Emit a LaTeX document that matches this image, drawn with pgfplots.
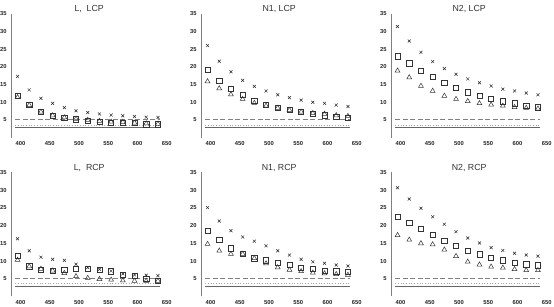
\documentclass[border=0pt]{standalone}
\usepackage{fontspec}
\setmainfont{Liberation Sans}
\usepackage{pgfplots}
\usepackage{pgfplotstable}
\pgfplotsset{compat=1.18}

\pgfplotstableread{
x   X    S    T
395 17.3 11.9 11.4
415 13.5 9.2  9.2
435 11.1 7.3  7.3
455 9.7  6.2  6.3
475 8.5  5.7  5.7
495 7.6  5.2  5.3
515 7.1  4.8  5.0
535 6.7  4.5  4.7
555 6.4  4.3  4.5
575 6.2  4.2  4.4
595 6.0  4.1  4.2
615 5.8  3.8  4.0
635 5.7  3.8  3.9
}\LLCP
\pgfplotstableread{
x   X    S    T
395 26.0 19.1 15.9
415 21.6 16.1 13.9
435 18.6 13.7 12.2
455 16.2 12.0 10.9
475 14.5 10.5 9.8
495 13.2 9.3  9.0
515 12.1 8.4  8.4
535 11.3 7.8  7.8
555 10.6 7.2  7.3
575 10.0 6.7  6.9
595 9.7  6.3  6.7
615 9.2  6.0  6.3
635 8.8  5.7  6.1
}\NaLCP
\pgfplotstableread{
x   X    S    T
395 31.4 23.0 18.9
415 27.3 21.0 17.0
435 24.1 18.9 14.6
455 21.5 17.1 13.2
475 19.5 15.4 11.8
495 17.9 14.0 10.9
515 16.6 12.8 10.3
535 15.5 11.9 9.7
555 14.6 11.0 9.3
575 13.7 10.3 9.0
595 13.2 9.7  8.6
615 12.6 9.1  8.4
635 12.1 8.6  8.2
}\NbLCP
\pgfplotstableread{
x   X    S    T
395 16.3 11.6 10.3
415 12.9 8.5  8.5
435 11.1 7.6  7.8
455 10.5 7.3  7.3
475 10.2 7.5  6.6
495 9.1  7.8  5.7
515 8.2  7.9  5.2
535 7.7  7.6  4.9
555 7.2  7.1  4.7
575 6.4  6.1  4.5
595 6.1  5.8  4.4
615 6.0  5.1  4.4
635 5.9  4.4  4.4
}\LRCP
\pgfplotstableread{
x   X    S    T
395 25.1 18.5 14.8
415 21.3 16.0 12.9
435 18.6 13.6 12.0
455 16.8 12.1 12.0
475 15.6 10.8 10.8
495 14.3 10.2 9.3
515 12.9 9.6  8.2
535 11.7 8.9  7.5
555 10.5 8.2  7.1
575 9.8  7.8  6.7
595 9.4  7.3  6.5
615 8.9  7.1  6.3
635 8.6  6.9  6.1
}\NaRCP
\pgfplotstableread{
x   X    S    T
395 30.7 22.6 17.3
415 27.5 20.9 16.0
435 24.9 19.1 15.0
455 22.5 17.5 14.7
475 20.4 15.8 13.2
495 18.3 14.2 11.4
515 16.5 12.9 9.8
535 15.1 11.9 9.0
555 13.8 10.9 8.4
575 13.0 10.2 8.1
595 12.2 9.6  7.7
615 11.7 9.1  7.4
635 11.4 8.8  7.4
}\NbRCP

\pgfplotsset{
  panel/.style={
    scale only axis, width=155pt, height=124pt,
    xmin=385, xmax=650, ymin=0, ymax=35,
    axis lines=left,
    axis line style={gray, line width=0.5pt, -},
    x axis line style={draw=none},
    xtick={400,450,...,650}, ytick={5,10,...,35},
    major tick length=0pt,
    /pgf/number format/assume math mode=true,
    ticklabel style={font=\fontsize{5.8}{7}\selectfont\bfseries, text=black!85},
    xticklabel style={yshift=-0.5pt},
    yticklabel style={xshift=-1.5pt},
    every axis title shift=0pt,
    title style={at={(0.5,1)}, anchor=south, inner sep=1pt, yshift=-0.5pt, font=\fontsize{8.8}{10}\selectfont, text=black!80},
    clip=false,
  },
}

\newcommand\panel[4]{%
\begin{axis}[panel, at={(#1pt,#2pt)}, anchor=south west, title={#3}]
\addplot[black!85, only marks, mark=x, mark size=2.1pt, line width=0.5pt] table[x=x,y=X] {#4};
\addplot[black!80, only marks, mark=square, mark size=2.6pt, line width=0.6pt] table[x=x,y=S] {#4};
\addplot[black!80, only marks, mark=triangle, mark size=2.8pt, line width=0.5pt] table[x=x,y=T] {#4};
\addplot[gray, dashed, line width=1pt, dash pattern=on 5pt off 2.5pt, no marks] coordinates {(391,5) (638,5)};
\addplot[gray!70, dotted, line width=0.7pt, no marks] coordinates {(391,3.6) (638,3.6)};
\addplot[black!60, line width=0.7pt, no marks] coordinates {(391,2.8) (638,2.8)};
\end{axis}}

\begin{document}
\begin{tikzpicture}
\useasboundingbox (0,0) rectangle (554pt,307pt);
\panel{11.7}{169.3}{L,\ \ LCP}{\LLCP}
\panel{201.7}{169.3}{N1, LCP}{\NaLCP}
\panel{391.7}{169.3}{N2, LCP}{\NbLCP}
\panel{11.7}{10.5}{L,\ \ RCP}{\LRCP}
\panel{201.7}{10.5}{N1, RCP}{\NaRCP}
\panel{391.7}{10.5}{N2, RCP}{\NbRCP}
\end{tikzpicture}
\end{document}
